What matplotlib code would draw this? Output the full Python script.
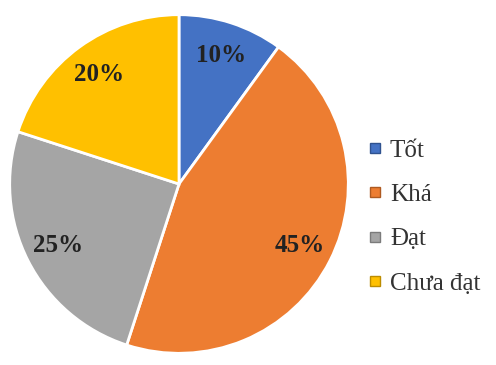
import matplotlib
matplotlib.use("Agg")
import matplotlib.pyplot as plt
from matplotlib.lines import Line2D

labels = ["Tốt", "Khá", "Đạt", "Chưa đạt"]
values = [10, 45, 25, 20]
colors = ["#4472C4", "#ED7D31", "#A5A5A5", "#FFC000"]
edges = ["#2F528F", "#AE5A21", "#7B7B7B", "#BC8C00"]

plt.rcParams['font.family'] = ['Liberation Serif', 'DejaVu Serif']

W, H = 496, 365
fig = plt.figure(figsize=(W / 100, H / 100), dpi=100)
# pie area: 342 px square, left edge at x=8, bottom at 10 px
ax = fig.add_axes([8 / W, 10 / H, 342 / W, 342 / H])
wedges, texts, autotexts = ax.pie(
    values, colors=colors, startangle=90, counterclock=False,
    autopct=lambda p: f"{p:.0f}%", pctdistance=0.8,
    wedgeprops=dict(edgecolor="white", linewidth=2),
    textprops=dict(fontsize=18, fontweight="bold", color="#222222"))
ax.set_xlim(-1.01, 1.01)
ax.set_ylim(-1.01, 1.01)
ax.set_aspect("equal")
ax.axis("off")

handles = [Line2D([], [], marker="s", linestyle="none", markersize=7,
                  markerfacecolor=c, markeredgecolor=e, markeredgewidth=1)
           for c, e in zip(colors, edges)]
fig.legend(handles, labels, loc="center left", bbox_to_anchor=(345 / W, 1 - 217 / H),
           frameon=False, fontsize=18, handlelength=0.6, handletextpad=0.3,
           labelspacing=0.87, labelcolor="#333333")

fig.savefig("out.png", dpi=100)
